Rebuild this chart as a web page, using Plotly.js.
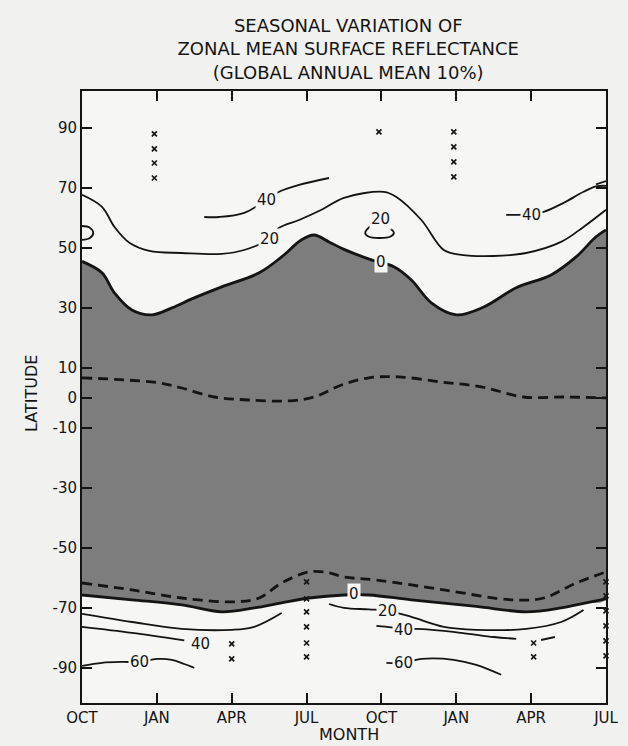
<!DOCTYPE html>
<html>
<head>
<meta charset="utf-8">
<script src="https://cdn.plot.ly/plotly-3.0.1.min.js"></script>
<style>
html,body{margin:0;padding:0;background:#f1f1ef;}
#chart{width:628px;height:746px;}
</style>
</head>
<body>
<div id="chart"></div>
<script>
// ---- axis ticks ----
var monthTickVals = [0, 3, 6, 9, 12, 15, 18, 21];
var monthTickText = ['OCT', 'JAN', 'APR', 'JUL', 'OCT', 'JAN', 'APR', 'JUL'];
var latTickVals = [90, 70, 50, 30, 10, 0, -10, -30, -50, -70, -90];
var latTickText = ['90', '70', '50', '30', '10', '0', '-10', '-30', '-50', '-70', '-90'];

// ---- 0% contour, northern edge of shaded area ----
var north0M   = [0, 0.8, 1.3, 2, 2.8, 3.6, 4.4, 5.6, 7.1, 8, 8.8, 9.3, 9.9, 10.5, 11.6, 12.5, 13.2, 14, 15, 16.1, 17.4, 18.8, 19.8, 20.6, 21];
var north0Lat = [45.5, 41.7, 35, 29.3, 27.7, 30, 33, 37, 41.7, 47, 52.7, 54.3, 52, 49.5, 46, 43.7, 39.3, 31.7, 27.7, 30.3, 36.7, 41, 47, 53.7, 56];

// ---- 0% contour, southern edge ----
var south0M   = [0, 2, 4, 5.6, 6.9, 8, 9.1, 10.5, 11.5, 13.2, 15.8, 17.8, 19.2, 20.2, 21];
var south0Lat = [-65.7, -67.3, -69, -71.3, -70, -68.3, -66.7, -65.7, -65.7, -67.3, -69.5, -71.3, -70, -68.3, -67];

// ---- dashed lines ----
var dashEqM   = [0, 1.7, 3.1, 4, 5.3, 6.7, 8.3, 9.3, 10.4, 11.5, 12.7, 14.4, 16, 17.7, 19.4, 21];
var dashEqLat = [6.7, 6, 5, 3.3, 0.3, -0.7, -1, 0.3, 4.3, 6.7, 7, 5.3, 3.7, 0.3, 0.3, 0];
var dashSM    = [0, 2, 4, 6, 7.1, 8, 9.1, 9.9, 10.5, 11.8, 14.5, 17.2, 18.5, 19.8, 21];
var dashSLat  = [-61.7, -64, -66.7, -68, -66.7, -61.7, -58, -58.3, -59.7, -60.7, -64, -67.3, -66.7, -61.7, -58];

// ---- 20% contours ----
var north20M   = [0, 0.8, 1.3, 1.9, 2.7, 4, 5.6, 6.5, 7.5, 7.9, 8.7, 9.6, 10.5, 12.1, 12.6, 13.6, 14.5, 15.2, 16.5, 17.8, 19.2, 20.1, 21];
var north20Lat = [67.7, 63.7, 57, 51.7, 49, 48.3, 48, 49.3, 53, 56.7, 59.3, 62.7, 66.7, 68.7, 67, 59.3, 49.3, 47.7, 47.3, 48.3, 52, 57, 62.7];
var loop20M    = [11.35, 11.5, 11.9, 12.35, 12.5, 12.35, 12.1, 11.9, 11.6, 11.35];
var loop20Lat  = [55, 53.7, 53.3, 53.7, 55, 56.5, 57.3, 56.6, 57.3, 55];
var edge20M    = [0, 0.3, 0.45, 0.3, 0];
var edge20Lat  = [57.3, 56.8, 55, 53.2, 52.7];
var south20aM   = [0, 2, 4, 6, 6.9, 8];
var south20aLat = [-72, -74.7, -77, -77.3, -76.3, -71.7];
var south20bM   = [9.9, 10.5, 11.5, 12.26, 13.2, 14.5, 15.8, 17.8, 19.2, 20.1];
var south20bLat = [-68.7, -70, -70.5, -71, -73, -76.3, -77.3, -77, -74.7, -70.7];

// ---- 40% contours ----
var north40aM   = [4.9, 5.5, 6.5, 7.4, 7.9, 8.7, 9.9];
var north40aLat = [60.3, 60.3, 61.7, 66, 68.7, 71, 73.3];
var north40bM   = [17.0, 17.5, 18, 18.5, 19.3, 20.1, 20.6, 21];
var north40bLat = [61, 61, 61.3, 62, 65, 68.7, 70.5, 70.7];
var north40cM   = [20.6, 21];
var north40cLat = [71.2, 72.3];
var south40aM   = [0, 2, 4.1];
var south40aLat = [-76.3, -78.3, -80.8];
var south40bM   = [11.8, 12.4, 12.9, 13.4, 15.2, 16.5, 17.4];
var south40bLat = [-76, -76.5, -77.3, -77, -78.3, -79.7, -80.3];
var south40cM   = [18.4, 18.95];
var south40cLat = [-80.7, -79.7];

// ---- 60% contours ----
var south60aM   = [0, 0.8, 1.6, 2.3, 3, 3.6, 4.1, 4.5];
var south60aLat = [-89.3, -88.3, -88, -88, -87, -87.3, -88.7, -90];
var south60bM   = [12.2, 12.9, 13.6, 14.9, 15.8, 16.8];
var south60bLat = [-88.3, -88.3, -87, -87.3, -89, -92.3];

// ---- x marks (observation points) ----
var xMarkM   = [2.9, 2.9, 2.9, 2.9, 11.9, 14.9, 14.9, 14.9, 14.9, 6, 6, 9, 9, 9, 9, 9, 9, 18.1, 18.1, 21, 21, 21, 21, 21, 21];
var xMarkLat = [88, 83, 78.3, 73.3, 88.7, 88.7, 83.7, 78.7, 73.7, -82, -87, -61.3, -67, -71.3, -76.3, -81.7, -86.3, -81.7, -86.3, -61.3, -66, -71, -76, -81, -86];

// ---- contour labels ----
var labelText = ['40', '20', '20', '0', '40', '0', '20', '40', '60', '40', '60'];
var labelM    = [7.4, 7.5, 11.97, 12.0, 18.0, 10.9, 12.26, 4.75, 2.3, 12.9, 12.9];
var labelLat  = [66, 53, 59.8, 45.3, 61, -65.3, -71, -82, -88, -77.3, -88.3];

// ================= drawing =================
var PLOTBG = '#f6f6f4';
var INK = '#141414';
var fnt = 'DejaVu Sans, Arial, sans-serif';

function line(x, y, w, dash) {
  return {x: x, y: y, type: 'scatter', mode: 'lines', hoverinfo: 'skip',
          line: {color: INK, width: w, shape: 'spline', smoothing: 1, dash: dash || 'solid'},
          showlegend: false};
}

var shadeX = north0M.concat(south0M.slice().reverse());
var shadeY = north0Lat.concat(south0Lat.slice().reverse());

var traces = [
  {x: shadeX, y: shadeY, type: 'scatter', mode: 'lines', fill: 'toself',
   fillcolor: '#7d7d7d', line: {width: 0, shape: 'spline', smoothing: 1}, hoverinfo: 'skip', showlegend: false},
  line(north0M, north0Lat, 2.8),
  line(south0M, south0Lat, 2.8),
  line(dashEqM, dashEqLat, 2.8, '10px,6px'),
  line(dashSM, dashSLat, 2.8, '10px,6px'),
  line(north20M, north20Lat, 1.8),
  line(loop20M, loop20Lat, 1.8),
  line(edge20M, edge20Lat, 1.8),
  line(south20aM, south20aLat, 1.8),
  line(south20bM, south20bLat, 1.8),
  line(north40aM, north40aLat, 1.8),
  line(north40bM, north40bLat, 1.8),
  line(north40cM, north40cLat, 1.8),
  line(south40aM, south40aLat, 1.8),
  line(south40bM, south40bLat, 1.8),
  line(south40cM, south40cLat, 1.8),
  line(south60aM, south60aLat, 1.8),
  line(south60bM, south60bLat, 1.8),
  {x: xMarkM, y: xMarkLat, type: 'scatter', mode: 'markers', cliponaxis: false, hoverinfo: 'skip',
   marker: {symbol: 'x-thin', size: 5, line: {color: INK, width: 1.7}, color: INK}, showlegend: false}
];

var annotations = labelText.map(function (t, i) {
  return {x: labelM[i], y: labelLat[i], xref: 'x', yref: 'y', text: t, showarrow: false,
          font: {family: fnt, size: 15, color: INK}, bgcolor: PLOTBG, borderpad: 1,
          xanchor: 'center', yanchor: 'middle'};
});
annotations.push({xref: 'paper', yref: 'paper', x: -0.0954, y: 0.505, text: 'LATITUDE', textangle: -90,
  showarrow: false, font: {family: fnt, size: 16, color: INK}, xanchor: 'center', yanchor: 'middle'});
annotations.push({xref: 'paper', yref: 'paper', x: 0.5095, y: -0.052, text: 'MONTH',
  showarrow: false, font: {family: fnt, size: 16, color: INK}, xanchor: 'center', yanchor: 'middle'});

var layout = {
  width: 628, height: 746,
  paper_bgcolor: '#f1f1ef', plot_bgcolor: PLOTBG,
  margin: {l: 82, r: 22, t: 91, b: 43},
  font: {family: fnt, color: INK},
  title: {text: 'SEASONAL VARIATION OF<br>ZONAL MEAN SURFACE REFLECTANCE<br>(GLOBAL ANNUAL MEAN 10%)',
          font: {family: fnt, size: 18, color: INK}, x: 0.508, xanchor: 'center',
          xref: 'paper', yref: 'container', y: 1 - 32 / 746, yanchor: 'top'},
  xaxis: {range: [0, 21], tickvals: monthTickVals, ticktext: monthTickText, ticks: 'inside', ticklen: 10,
          tickwidth: 2, tickcolor: INK, showline: true, linewidth: 2, linecolor: INK, mirror: 'ticks',
          showgrid: false, zeroline: false, tickfont: {family: fnt, size: 15, color: INK}, fixedrange: true},
  yaxis: {range: [-101.7, 102.3], tickvals: latTickVals, ticktext: latTickText, ticks: 'inside', ticklen: 10,
          tickwidth: 2, tickcolor: INK, showline: true, linewidth: 2, linecolor: INK, mirror: 'ticks',
          showgrid: false, zeroline: false, tickfont: {family: fnt, size: 15, color: INK}, fixedrange: true},
  annotations: annotations,
  showlegend: false
};

Plotly.newPlot('chart', traces, layout, {displayModeBar: false, staticPlot: true});
</script>
</body>
</html>
